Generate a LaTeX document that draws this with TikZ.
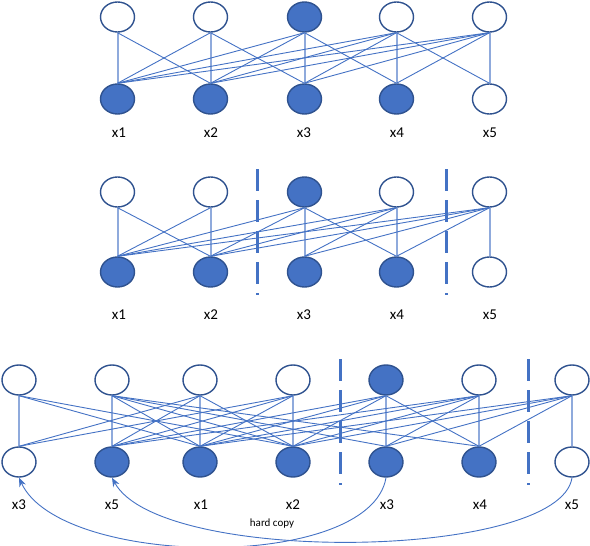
\documentclass[tikz,border=0pt]{standalone}
\usepackage{fontspec}
\setmainfont{Carlito}
\usetikzlibrary{shapes.geometric,arrows.meta}
\definecolor{nodeblue}{HTML}{4472C4}
\definecolor{nodeedge}{HTML}{2F528F}
\definecolor{vline}{HTML}{8FAADC}
\tikzset{
  onode/.style={ellipse, draw=nodeedge, line width=1.4pt, fill=white, minimum width=34pt, minimum height=30pt, inner sep=0pt},
  fnode/.style={onode, fill=nodeblue},
  dedge/.style={draw=nodeblue, line width=0.9pt},
  vedge/.style={draw=vline, line width=2pt},
  sepline/.style={draw=nodeblue, line width=3pt, dash pattern=on 22pt off 9pt},
  lab/.style={font=\fontsize{15}{18}\selectfont, inner sep=0pt},
  copyarrow/.style={draw=nodeblue, line width=0.9pt, -{Stealth[length=9pt,width=7pt]}},
}
\begin{document}
\begin{tikzpicture}[x=1pt,y=-1pt]
\useasboundingbox (0,0) rectangle (590,546);
% ---------------- panel 1 ----------------
\foreach \i/\x/\s in {1/117.5/onode,2/210.5/onode,3/304.5/fnode,4/396.5/onode,5/489.5/onode}
  \node[\s] (at\i) at (\x,17) {};
\foreach \i/\x/\s in {1/117.5/fnode,2/210.5/fnode,3/304.5/fnode,4/396.5/fnode,5/489.5/onode}
  \node[\s] (ab\i) at (\x,99) {};
\foreach \i/\x in {1/119,2/211,3/304,4/397,5/490}
  \node[lab] (al\i) at (\x,133) {x\i};
\foreach \i in {1,...,5}
  \draw[vedge] (at\i.south) -- (ab\i.north);
\foreach \a/\b in {1/2, 2/1, 2/3, 3/1, 3/2, 3/4, 4/1, 4/2, 4/3, 4/5, 5/1, 5/2, 5/3, 5/4}
  \draw[dedge] (at\a.south) -- (ab\b.north);
% ---------------- panel 2 ----------------
\foreach \i/\x/\s in {1/117.5/onode,2/210.5/onode,3/304.5/fnode,4/396.5/onode,5/489.5/onode}
  \node[\s] (bt\i) at (\x,192) {};
\foreach \i/\x/\s in {1/117.5/fnode,2/210.5/fnode,3/304.5/fnode,4/396.5/fnode,5/489.5/onode}
  \node[\s] (bb\i) at (\x,272) {};
\foreach \i/\x in {1/119,2/211,3/304,4/397,5/490}
  \node[lab] (bl\i) at (\x,315) {x\i};
\foreach \i in {1,...,5}
  \draw[vedge] (bt\i.south) -- (bb\i.north);
\foreach \a/\b in {1/2, 2/1, 3/1, 3/2, 3/4, 4/1, 4/2, 4/3, 5/1, 5/2, 5/3, 5/4}
  \draw[dedge] (bt\a.south) -- (bb\b.north);
\draw[sepline] (257,169) -- (257,295);
\draw[sepline] (446,169) -- (446,295);
% ---------------- panel 3 ----------------
\foreach \i/\x/\s in {1/19/onode,2/112/onode,3/200/onode,4/293/onode,5/386/fnode,6/479/onode,7/572/onode}
  \node[\s] (ct\i) at (\x,380) {};
\foreach \i/\x/\s in {1/19/onode,2/112/fnode,3/200/fnode,4/293/fnode,5/386/fnode,6/479/fnode,7/572/onode}
  \node[\s] (cb\i) at (\x,462) {};
\foreach \i/\x/\t in {1/19/x3,2/112/x5,3/201/x1,4/293/x2,5/387/x3,6/480/x4,7/572/x5}
  \node[lab] (cl\i) at (\x,505) {\t};
\foreach \i in {1,...,7}
  \draw[vedge] (ct\i.south) -- (cb\i.north);
\foreach \a/\b in {1/3,1/4, 2/3,2/4,2/5,2/6, 3/1,3/2,3/4, 4/1,4/2,4/3, 5/2,5/3,5/4,5/6, 6/2,6/3,6/4,6/5, 7/3,7/4,7/5,7/6}
  \draw[dedge] (ct\a.south) -- (cb\b.north);
\draw[sepline] (340,359) -- (340,485);
\draw[sepline] (528,359) -- (528,485);
\draw[copyarrow] (cb5.south) .. controls (370,572) and (60,568) .. (cb1.south);
\draw[copyarrow] (cb7.south) .. controls (560,560) and (160,566) .. (cb2.south);
\node[font=\fontsize{11}{13}\selectfont, inner sep=0pt] (hc) at (272,524) {hard copy};
\end{tikzpicture}
\end{document}
